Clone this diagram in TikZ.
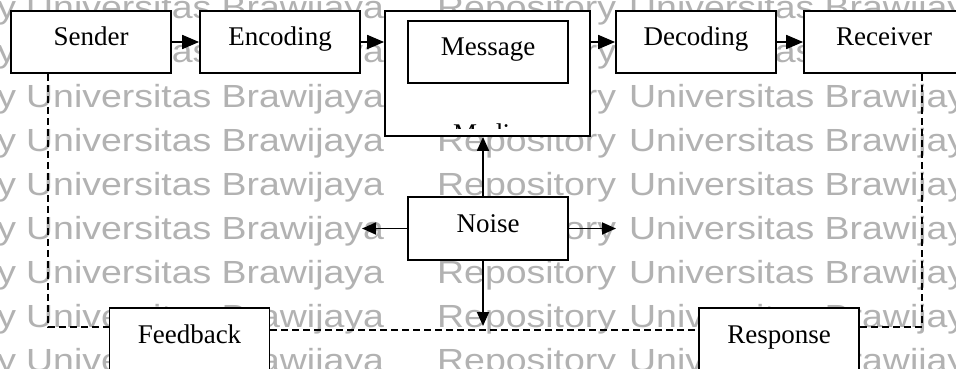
\documentclass[tikz,border=0pt]{standalone}
\usepackage{fontspec}
\setmainfont{Liberation Serif}
\newfontfamily\wmfont{Liberation Sans}
\usetikzlibrary{arrows.meta}
\begin{document}
\begin{tikzpicture}[x=1pt,y=-1pt,
  box/.style={draw, line width=1.8pt, fill=white, minimum width=160pt, minimum height=62pt,
    font=\fontsize{27}{30}\selectfont, text height=18pt, text depth=10pt, inner sep=0pt},
  arr/.style={line width=1.8pt, -{Triangle[length=17pt,width=14pt]}},
  arrs/.style={line width=1.8pt, -{Triangle[length=14pt,width=12pt]}},
  dline/.style={line width=1.3pt, dash pattern=on 7pt off 4pt},
  wm/.style={text=black!30, font=\wmfont\fontsize{32}{36}\selectfont, anchor=base west, inner sep=0pt}
]
\useasboundingbox (0,0) rectangle (956,369);
\clip (0,0) rectangle (956,369);
\fill[white] (0,0) rectangle (956,369);
% watermark
\foreach \r in {0,...,8}{
  \node[wm] (wma\r) at (-163,19+44*\r) {\scalebox{1.17}[1]{Repository}};
  \node[wm] (wmb\r) at (26,19+44*\r) {\scalebox{1.17}[1]{Universitas Brawijaya}};
  \node[wm] (wmc\r) at (437,19+44*\r) {\scalebox{1.17}[1]{Repository}};
  \node[wm] (wmd\r) at (629,19+44*\r) {\scalebox{1.17}[1]{Universitas Brawijaya}};
}
% boxes
\node[box] (sender) at (91,42) {Sender};
\node[box] (enc) at (280,42) {Encoding};
\node[box, minimum width=205pt, minimum height=125pt] (media) at (487.5,73.5) {};
\coordinate (cliplim) at (0,128);
\begin{scope}
  \clip (media.north west) rectangle (media.east |- cliplim);
  \node[font=\fontsize{27}{30}\selectfont, anchor=base west, inner sep=0pt] (medialbl) at (453,142) {Media};
\end{scope}
\node[box] (msg) at (488,52) {Message};
\node[box] (dec) at (696,42) {Decoding};
\node[box] (recv) at (884,42) {Receiver};
\node[box, minimum height=63pt] (noise) at (488,228.5) {Noise};
\node[box] (fb) at (189.5,339) {Feedback};
\node[box] (resp) at (779,339) {Response};
% free ends
\coordinate (nl) at (362,228.5);
\coordinate (nr) at (616,228.5);
\coordinate (nd) at (483,326);
% arrows
\draw[arr] (sender) -- (enc);
\draw[arr] (enc.east) -- (enc.east -| media.west);
\draw[arr] (media.east |- dec.west) -- (dec.west);
\draw[arr] (dec) -- (recv);
\draw[arrs] ([xshift=-5pt]noise.north) -- ([xshift=-5pt]noise.north |- media.south);
\draw[arrs] (noise.west) -- (nl);
\draw[arrs] (noise.east) -- (nr);
\draw[arrs] ([xshift=-5pt]noise.south) -- (nd);
% feedback loop
\draw[dline] ([xshift=-43pt]sender.south) |- ([yshift=12pt]fb.west);
\draw[dline] ([yshift=9pt]fb.east) -- ([yshift=9pt]resp.west);
\draw[dline] ([yshift=12pt]resp.east) -| ([xshift=38pt]recv.south);
\end{tikzpicture}
\end{document}
